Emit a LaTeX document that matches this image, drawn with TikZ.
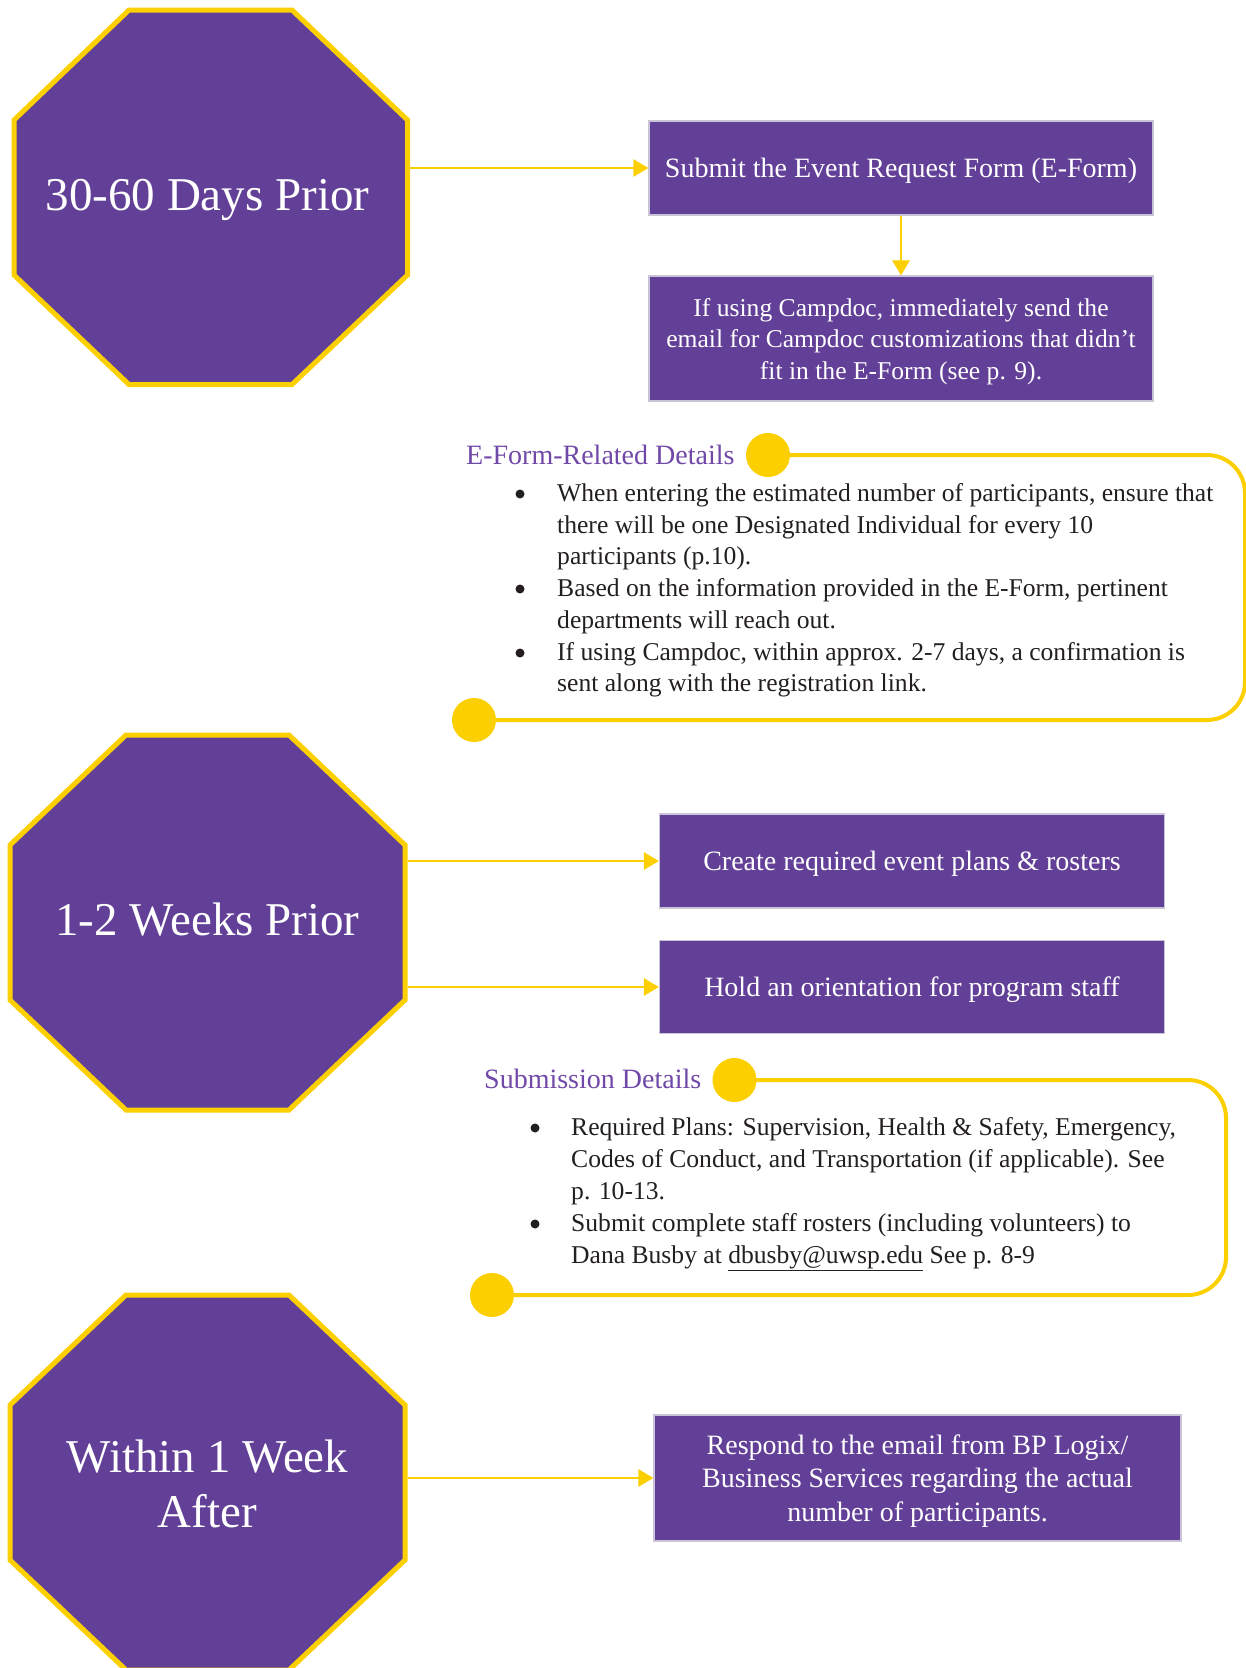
\documentclass[tikz,border=0pt]{standalone}
\usepackage{fontspec}
\setmainfont{Liberation Serif}
\usetikzlibrary{arrows.meta}
\definecolor{purp}{RGB}{99,64,151}
\definecolor{ylw}{RGB}{252,208,0}
\definecolor{ttl}{RGB}{112,72,168}
\definecolor{txt}{RGB}{35,31,32}
\definecolor{edgec}{RGB}{200,196,214}
\begin{document}
\begin{tikzpicture}[x=1pt,y=-1pt,
  oct/.style={fill=purp, draw=ylw, line width=5pt, line join=miter},
  octtext/.style={text=white, font=\fontsize{47}{55}\selectfont, inner sep=0pt, align=center},
  box/.style={fill=purp, draw=edgec, line width=1.2pt, text=white, align=center, inner sep=0pt,
    text depth=0pt, font=\fontsize{28}{31.5}\selectfont},
  arr/.style={draw=ylw, line width=2.7pt, -{Triangle[length=15pt,width=17pt]}},
  panel/.style={draw=ylw, line width=4pt, rounded corners=38pt},
  knob/.style={circle, fill=ylw, minimum size=44pt, inner sep=0pt},
  ttlsty/.style={anchor=base west, inner sep=0pt, text=ttl, font=\fontsize{28}{32}\selectfont},
  bl/.style={anchor=base west, inner sep=0pt, text=txt, font=\fontsize{25.6}{32}\selectfont},
  bdot/.style={circle, fill=txt, minimum size=9pt, inner sep=0pt}
]
\useasboundingbox (0,0) rectangle (1246,1668);
\clip (0,0) rectangle (1246,1668);

% ---------- octagons ----------
\draw[oct] (129,10) -- (292,10) -- (407.5,120) -- (407.5,275) -- (292,384.5) -- (129,384.5) -- (14,275) -- (14,120) -- cycle;
\node[octtext, anchor=base] (o1) at (207.5,210) {30-60 Days Prior};

\draw[oct] (126,735) -- (289,735) -- (405,845) -- (405,1000) -- (289,1110) -- (126,1110) -- (10,1000) -- (10,845) -- cycle;
\node[octtext, anchor=base] (o2) at (207.5,935) {1-2 Weeks Prior};

\draw[oct] (126,1295) -- (289,1295) -- (405,1405) -- (405,1560) -- (289,1670) -- (126,1670) -- (10,1560) -- (10,1405) -- cycle;
\node[octtext] (o3) at (207.5,1484) {Within 1 Week\\After};

\coordinate (o1r) at (410,168);
\coordinate (o2ra) at (407.5,861);
\coordinate (o2rb) at (407.5,987);
\coordinate (o3r) at (407.5,1478);

% ---------- boxes ----------
\node[box, minimum width=504pt, minimum height=94pt] (b1) at (901,168) {Submit the Event Request Form (E-Form)};
\node[box, minimum width=504pt, minimum height=125pt, font=\fontsize{25.6}{31.5}\selectfont] (b2) at (901,338.5) {If using Campdoc, immediately send the\\email for Campdoc customizations that didn’t\\fit in the E-Form (see p. 9).};
\node[box, minimum width=505pt, minimum height=94pt] (b3) at (912,861) {Create required event plans \& rosters};
\node[box, minimum width=505pt, minimum height=93pt] (b4) at (912,987) {Hold an orientation for program staff};
\node[box, minimum width=527pt, minimum height=126pt, font=\fontsize{28}{33.5}\selectfont] (b5) at (917.5,1478) {Respond to the email from BP Logix/\\Business Services regarding the actual\\number of participants.};

% ---------- arrows ----------
\draw[arr] (o1r) -- (b1.west);
\draw[arr] (b1.south) -- (b2.north);
\draw[arr] (o2ra) -- (b3.west);
\draw[arr] (o2rb) -- (b4.west);
\draw[arr] (o3r) -- (b5.west);

% ---------- panel 1 ----------
\coordinate (k1c) at (768,455);
\coordinate (k2c) at (474,720);
\draw[panel] (k1c) -- (1245,455) -- (1245,720) -- (k2c);
\node[knob] (k1) at (k1c) {};
\node[knob] (k2) at (k2c) {};
\node[ttlsty] (t1) at (466,464) {E-Form-Related Details};

\node[bdot] (d1) at (520,494) {};
\node[bdot] (d2) at (520,589) {};
\node[bdot] (d3) at (520,653) {};
\node[bl] (e1) at (557,501) {When entering the estimated number of participants, ensure that};
\node[bl] (e2) at (557,533) {there will be one Designated Individual for every 10};
\node[bl] (e3) at (557,564) {participants (p.10).};
\node[bl] (e4) at (557,596) {Based on the information provided in the E-Form, pertinent};
\node[bl] (e5) at (557,628) {departments will reach out.};
\node[bl] (e6) at (557,660) {If using Campdoc, within approx. 2-7 days, a confirmation is};
\node[bl] (e7) at (557,691) {sent along with the registration link.};

% ---------- panel 2 ----------
\coordinate (k3c) at (734.5,1080);
\coordinate (k4c) at (492,1295);
\draw[panel] (k3c) -- (1226,1080) -- (1226,1295) -- (k4c);
\node[knob] (k3) at (k3c) {};
\node[knob] (k4) at (k4c) {};
\node[ttlsty] (t2) at (484,1088) {Submission Details};

\node[bdot] (d4) at (535,1128) {};
\node[bdot] (d5) at (535,1224) {};
\node[bl] (s1) at (571,1135) {Required Plans: Supervision, Health \& Safety, Emergency,};
\node[bl] (s2) at (571,1167) {Codes of Conduct, and Transportation (if applicable). See};
\node[bl] (s3) at (571,1199) {p. 10-13.};
\node[bl] (s4) at (571,1231) {Submit complete staff rosters (including volunteers) to};
\node[bl] (s5) at (571,1263) {Dana Busby at \underline{dbusby@uwsp.edu} See p. 8-9};
\end{tikzpicture}
\end{document}
